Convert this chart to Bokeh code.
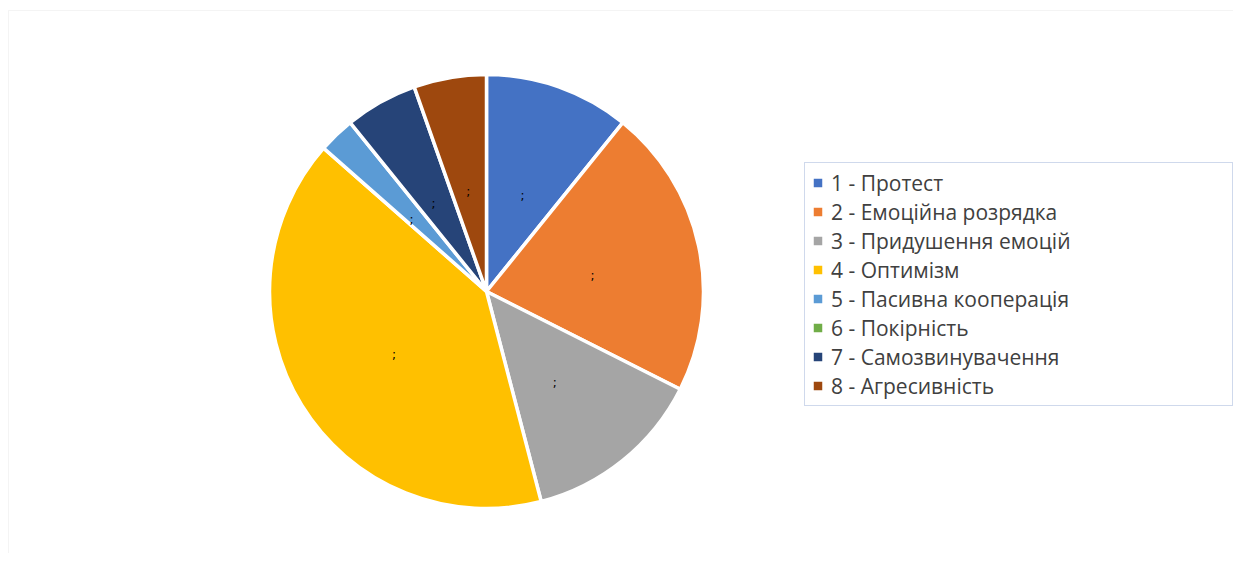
import math
from bokeh.plotting import figure
from bokeh.models import ColumnDataSource, Legend, LegendItem, BoxAnnotation
from bokeh.core.properties import value
from bokeh.embed import file_html
from bokeh.resources import INLINE

categories = ["1 - Протест", "2 - Емоційна розрядка", "3 - Придушення емоцій", "4 - Оптимізм",
              "5 - Пасивна кооперація", "6 - Покірність", "7 - Самозвинувачення", "8 - Агресивність"]
values = [4, 8, 5, 15, 1, 0, 2, 2]
colors = ["#4472C4", "#ED7D31", "#A5A5A5", "#FFC000", "#5B9BD5", "#70AD47", "#264478", "#9E480E"]
data_labels = [";", ";", ";", ";", ";", ";", ";", ";"]

W, H = 1233, 553
p = figure(width=W, height=H, x_range=(0, W), y_range=(0, H), output_backend="svg",
           toolbar_location=None, x_axis_location=None, y_axis_location=None, min_border=0)
p.grid.visible = False
p.outline_line_color = None
p.background_fill_color = "white"
p.border_fill_color = "white"

# chart area border
p.add_layout(BoxAnnotation(left=8, right=W + 20, top=H - 10, bottom=-20,
                           fill_alpha=0, line_color="#d9d9d9", line_width=1))

cx, cy, R = 486, H - 291, 217
total = sum(values)
items = []
cum = 0
lx, ly, lt = [], [], []
for cat, v, c, lab in zip(categories, values, colors, data_labels):
    start = math.pi / 2 - 2 * math.pi * cum / total
    end = math.pi / 2 - 2 * math.pi * (cum + v) / total
    rad = R if v > 0 else 0
    src = ColumnDataSource(dict(x=[cx], y=[cy], s=[start], e=[end], r=[rad]))
    if v > 0:
        mid = (start + end) / 2
        lx.append(cx + 0.5 * R * math.cos(mid))
        ly.append(cy + 0.5 * R * math.sin(mid))
        lt.append(lab)
    r = p.wedge(x="x", y="y", radius="r", start_angle="s", end_angle="e", direction="clock",
                source=src, fill_color=c, line_color="white", line_width=3.5)
    items.append(LegendItem(label=cat, renderers=[r]))
    cum += v

p.text(x=lx, y=ly, text=lt, text_font_size="12px", text_color="#000000",
       text_align="center", text_baseline="middle", y_offset=7,
       text_font=value("DejaVu Sans"))

legend = Legend(items=items, location=(804, H - 406), orientation="vertical",
                label_text_font="Open Sans", label_text_font_size="21px",
                label_text_color="#404040", glyph_width=15, glyph_height=15,
                label_height=29, spacing=0, padding=5, margin=0, label_standoff=6,
                label_width=396, border_line_color="#9fb4da", border_line_width=1,
                background_fill_color="white", background_fill_alpha=1.0)
p.add_layout(legend)

open("out.html", "w").write(file_html(p, INLINE))
